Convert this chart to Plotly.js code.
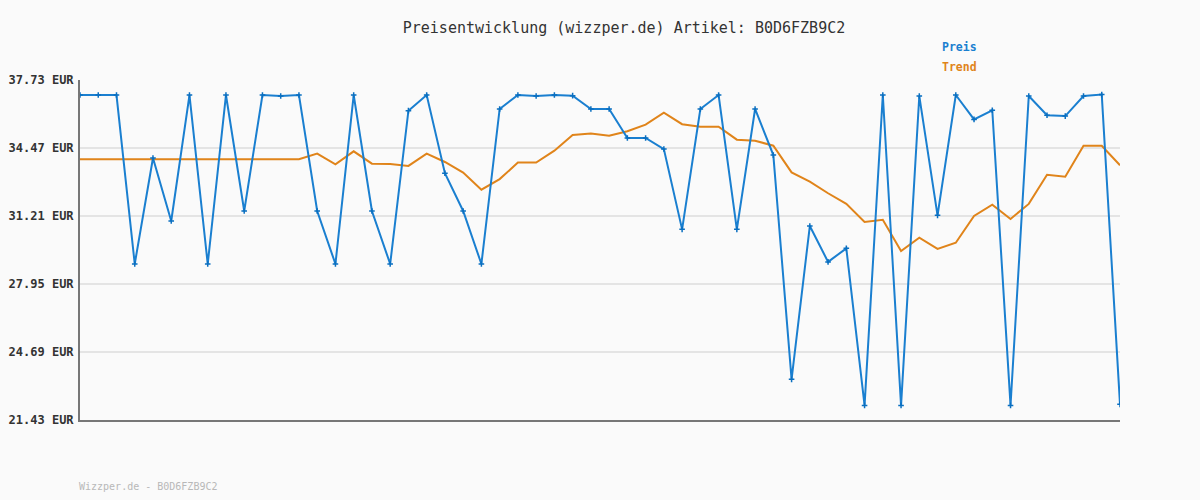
<!DOCTYPE html>
<html><head><meta charset="utf-8">
<script src="https://cdn.plot.ly/plotly-3.0.1.min.js"></script>
<style>html,body{margin:0;padding:0;background:#fafafa;}#chart{width:1200px;height:500px;}</style>
</head><body><div id="chart"></div>
<script>
const preis = [37.01,37.01,37.01,28.91,33.99,30.97,37.01,28.91,37.01,31.45,
 37.01,36.96,37.01,31.45,28.91,37.01,31.45,28.91,36.26,37.01,
 33.26,31.45,28.91,36.34,37.01,36.96,37.01,36.98,36.34,36.34,
 34.95,34.95,34.42,30.57,36.34,37.01,30.57,36.34,34.13,23.38,
 30.73,29.01,29.66,22.13,37.01,22.13,36.96,31.24,37.01,35.84,
 36.28,22.13,36.96,36.04,36.00,36.96,37.03,22.18];
const trend = [33.93,33.93,33.93,33.93,33.93,33.93,33.93,33.93,33.93,33.93,
 33.93,33.93,33.93,34.20,33.69,34.31,33.72,33.70,33.61,34.20,
 33.80,33.29,32.47,32.98,33.77,33.77,34.34,35.09,35.16,35.06,
 35.27,35.59,36.16,35.61,35.49,35.49,34.87,34.82,34.58,33.30,
 32.86,32.30,31.79,30.92,31.03,29.53,30.17,29.63,29.93,31.21,
 31.75,31.07,31.79,33.19,33.09,34.58,34.58,33.64];
const tickVals = [21.43,24.69,27.95,31.21,34.47,37.73];
const tickText = tickVals.map(v => v.toFixed(2) + ' EUR');
const idx = preis.map((_, i) => i);
const mono = 'DejaVu Sans Mono, monospace';

const data = [
  {x: idx, y: trend, name: 'Trend', type: 'scatter', mode: 'lines',
   line: {color: '#e0841a', width: 2}, hoverinfo: 'y'},
  {x: idx, y: preis, name: 'Preis', type: 'scatter', mode: 'lines+markers',
   line: {color: '#1a7fd0', width: 2},
   marker: {symbol: 'cross-thin', size: 4, line: {color: '#0a6fc0', width: 1.5}, color: '#0a6fc0'}, hoverinfo: 'y'}
];
const layout = {
  width: 1200, height: 500,
  paper_bgcolor: '#fafafa', plot_bgcolor: '#fafafa',
  margin: {l: 80, r: 80, t: 80, b: 80},
  showlegend: false,
  title: {text: 'Preisentwicklung (wizzper.de) Artikel: B0D6FZB9C2', x: 0.52, xanchor: 'center', y: 0.945, yanchor: 'middle',
          font: {family: mono, size: 15, color: '#333'}},
  xaxis: {range: [0, preis.length - 1], showticklabels: false, showgrid: false, zeroline: false,
          showline: true, linecolor: '#777', linewidth: 2, ticks: ''},
  yaxis: {range: [21.43, 37.73], tickvals: tickVals, ticktext: tickText, showgrid: true, gridcolor: '#e4e4e4', gridwidth: 2,
          zeroline: false, showline: true, linecolor: '#777', linewidth: 2, ticks: '', ticklabelstandoff: 2,
          tickfont: {family: mono, size: 12, color: '#333', weight: 'bold'}},
  annotations: [
    {text: '<b>Preis</b>', xref: 'paper', yref: 'paper', x: 0.827, y: 1.097, xanchor: 'left', yanchor: 'middle', showarrow: false,
     font: {family: mono, size: 11.5, color: '#1a7fd0'}},
    {text: '<b>Trend</b>', xref: 'paper', yref: 'paper', x: 0.827, y: 1.038, xanchor: 'left', yanchor: 'middle', showarrow: false,
     font: {family: mono, size: 11.5, color: '#e0841a'}},
    {text: 'Wizzper.de - B0D6FZB9C2', xref: 'paper', yref: 'paper', x: -0.003, y: -0.197, xanchor: 'left', yanchor: 'middle', showarrow: false,
     font: {family: mono, size: 10, color: '#b8b8b8'}}
  ]
};
Plotly.newPlot('chart', data, layout, {displayModeBar: false, staticPlot: true});
</script></body></html>
